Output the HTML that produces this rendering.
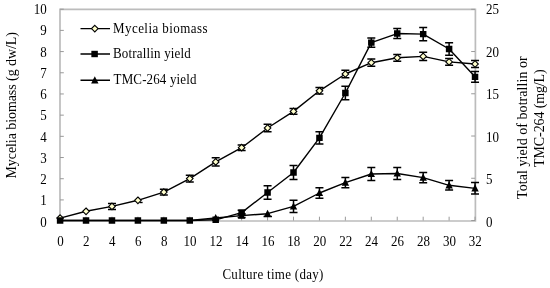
<!DOCTYPE html>
<html><head><meta charset="utf-8"><style>
html,body{margin:0;padding:0;background:#fff;}
body{width:550px;height:288px;overflow:hidden;font-family:"Liberation Serif",serif;}
svg{display:block;}
</style></head><body>
<svg width="550" height="288" viewBox="0 0 550 288">
<rect width="550" height="288" fill="#fff"/>
<path d="M60,9.3 H475.4 V221 H60 Z" fill="none" stroke="#bcbcbc" stroke-width="1.7"/>
<path d="M60,221.10h3.8 M60,199.91h3.8 M60,178.72h3.8 M60,157.53h3.8 M60,136.34h3.8 M60,115.15h3.8 M60,93.96h3.8 M60,72.77h3.8 M60,51.58h3.8 M60,30.39h3.8 M60,9.20h3.8 M475,220.50h-3.8 M475,178.26h-3.8 M475,136.02h-3.8 M475,93.78h-3.8 M475,51.54h-3.8 M475,9.30h-3.8 M60.10,220.5v-3.8 M86.03,220.5v-3.8 M111.97,220.5v-3.8 M137.90,220.5v-3.8 M163.84,220.5v-3.8 M189.77,220.5v-3.8 M215.70,220.5v-3.8 M241.64,220.5v-3.8 M267.57,220.5v-3.8 M293.51,220.5v-3.8 M319.44,220.5v-3.8 M345.37,220.5v-3.8 M371.31,220.5v-3.8 M397.24,220.5v-3.8 M423.18,220.5v-3.8 M449.11,220.5v-3.8 M475.04,220.5v-3.8" fill="none" stroke="#999" stroke-width="1"/>
<path d="M263.57,216.6h8.4M267.57,216.6v-3" stroke="#000" stroke-width="1.5"/>
<path d="M139.6,202.5h3" stroke="#000" stroke-width="1.4"/>
<path d="M111.97,203.40V209.40M107.97,203.40h8M107.97,209.40h8M163.84,189.15V195.05M159.84,189.15h8M159.84,195.05h8M189.77,175.30V181.90M185.77,175.30h8M185.77,181.90h8M215.70,157.80V166.00M211.70,157.80h8M211.70,166.00h8M241.64,145.00V150.40M237.64,145.00h8M237.64,150.40h8M267.57,124.35V131.65M263.57,124.35h8M263.57,131.65h8M293.51,108.60V114.20M289.51,108.60h8M289.51,114.20h8M319.44,87.60V94.00M315.44,87.60h8M315.44,94.00h8M345.37,70.15V77.85M341.37,70.15h8M341.37,77.85h8M371.31,59.10V66.30M367.31,59.10h8M367.31,66.30h8M397.24,54.40V61.20M393.24,54.40h8M393.24,61.20h8M423.18,52.30V60.50M419.18,52.30h8M419.18,60.50h8M449.11,58.50V65.30M445.11,58.50h8M445.11,65.30h8M475.04,60.50V67.50M471.04,60.50h8M471.04,67.50h8" fill="none" stroke="#000" stroke-width="1.5"/>
<polyline points="60.10,218.10 86.03,211.30 111.97,206.40 137.90,200.30 163.84,192.10 189.77,178.60 215.70,161.90 241.64,147.70 267.57,128.00 293.51,111.40 319.44,90.80 345.37,74.00 371.31,62.70 397.24,57.80 423.18,56.40 449.11,61.90 475.04,64.00" fill="none" stroke="#000" stroke-width="1.4" stroke-linejoin="round"/>
<path d="M60.10,214.80L63.40,218.10L60.10,221.40L56.80,218.10ZM86.03,208.00L89.33,211.30L86.03,214.60L82.73,211.30ZM111.97,203.10L115.27,206.40L111.97,209.70L108.67,206.40ZM137.90,197.00L141.20,200.30L137.90,203.60L134.60,200.30ZM163.84,188.80L167.14,192.10L163.84,195.40L160.54,192.10ZM189.77,175.30L193.07,178.60L189.77,181.90L186.47,178.60ZM215.70,158.60L219.00,161.90L215.70,165.20L212.40,161.90ZM241.64,144.40L244.94,147.70L241.64,151.00L238.34,147.70ZM267.57,124.70L270.87,128.00L267.57,131.30L264.27,128.00ZM293.51,108.10L296.81,111.40L293.51,114.70L290.21,111.40ZM319.44,87.50L322.74,90.80L319.44,94.10L316.14,90.80ZM345.37,70.70L348.67,74.00L345.37,77.30L342.07,74.00ZM371.31,59.40L374.61,62.70L371.31,66.00L368.01,62.70ZM397.24,54.50L400.54,57.80L397.24,61.10L393.94,57.80ZM423.18,53.10L426.48,56.40L423.18,59.70L419.88,56.40ZM449.11,58.60L452.41,61.90L449.11,65.20L445.81,61.90ZM475.04,60.70L478.34,64.00L475.04,67.30L471.74,64.00Z" fill="#ffffcc" stroke="#000" stroke-width="1.1"/>
<path d="M241.64,213.80V217.40M237.64,213.80h8M237.64,217.40h8M293.51,200.30V212.50M289.51,200.30h8M289.51,212.50h8M319.44,187.85V198.15M315.44,187.85h8M315.44,198.15h8M345.37,177.50V187.70M341.37,177.50h8M341.37,187.70h8M371.31,167.50V180.50M367.31,167.50h8M367.31,180.50h8M397.24,167.50V179.50M393.24,167.50h8M393.24,179.50h8M423.18,172.50V182.70M419.18,172.50h8M419.18,182.70h8M449.11,180.60V190.00M445.11,180.60h8M445.11,190.00h8M475.04,182.60V194.10M471.04,182.60h8M471.04,194.10h8" fill="none" stroke="#000" stroke-width="1.5"/>
<polyline points="60.10,220.50 86.03,220.50 111.97,220.50 137.90,220.50 163.84,220.50 189.77,220.50 215.70,218.00 241.64,215.60 267.57,213.70 293.51,206.40 319.44,193.00 345.37,182.60 371.31,174.00 397.24,173.50 423.18,177.60 449.11,185.30 475.04,188.35" fill="none" stroke="#000" stroke-width="1.4" stroke-linejoin="round"/>
<path d="M215.70,214.00L219.40,221.10L212.00,221.10ZM241.64,211.60L245.34,218.70L237.94,218.70ZM267.57,209.70L271.27,216.80L263.87,216.80ZM293.51,202.40L297.21,209.50L289.81,209.50ZM319.44,189.00L323.14,196.10L315.74,196.10ZM345.37,178.60L349.07,185.70L341.67,185.70ZM371.31,170.00L375.01,177.10L367.61,177.10ZM397.24,169.50L400.94,176.60L393.54,176.60ZM423.18,173.60L426.88,180.70L419.48,180.70ZM449.11,181.30L452.81,188.40L445.41,188.40ZM475.04,184.35L478.74,191.45L471.34,191.45Z" fill="#000"/>
<path d="M241.64,210.20V215.00M237.64,210.20h8M237.64,215.00h8M267.57,185.75V199.25M263.57,185.75h8M263.57,199.25h8M293.51,165.40V179.60M289.51,165.40h8M289.51,179.60h8M319.44,131.80V143.90M315.44,131.80h8M315.44,143.90h8M345.37,86.20V99.80M341.37,86.20h8M341.37,99.80h8M371.31,37.90V47.30M367.31,37.90h8M367.31,47.30h8M397.24,28.50V38.60M393.24,28.50h8M393.24,38.60h8M423.18,27.40V40.80M419.18,27.40h8M419.18,40.80h8M449.11,42.70V55.30M445.11,42.70h8M445.11,55.30h8M475.04,71.50V82.20M471.04,71.50h8M471.04,82.20h8" fill="none" stroke="#000" stroke-width="1.5"/>
<polyline points="60.10,220.50 86.03,220.50 111.97,220.50 137.90,220.50 163.84,220.50 189.77,220.50 215.70,219.80 241.64,212.60 267.57,192.50 293.51,172.50 319.44,137.85 345.37,93.00 371.31,42.60 397.24,33.55 423.18,34.10 449.11,49.00 475.04,76.85" fill="none" stroke="#000" stroke-width="1.4" stroke-linejoin="round"/>
<path d="M56.85,217.30h6.5v6.4h-6.5ZM82.78,217.30h6.5v6.4h-6.5ZM108.72,217.30h6.5v6.4h-6.5ZM134.65,217.30h6.5v6.4h-6.5ZM160.59,217.30h6.5v6.4h-6.5ZM186.52,217.30h6.5v6.4h-6.5ZM212.45,216.60h6.5v6.4h-6.5ZM238.39,209.40h6.5v6.4h-6.5ZM264.32,189.30h6.5v6.4h-6.5ZM290.26,169.30h6.5v6.4h-6.5ZM316.19,134.65h6.5v6.4h-6.5ZM342.12,89.80h6.5v6.4h-6.5ZM368.06,39.40h6.5v6.4h-6.5ZM393.99,30.35h6.5v6.4h-6.5ZM419.93,30.90h6.5v6.4h-6.5ZM445.86,45.80h6.5v6.4h-6.5ZM471.79,73.65h6.5v6.4h-6.5Z" fill="#000"/>
<path d="M80.5,28.6H110M80.5,54H110M80.5,80.3H110" stroke="#000" stroke-width="1.4"/>
<path d="M94.80,25.30L98.10,28.60L94.80,31.90L91.50,28.60Z" fill="#ffffcc" stroke="#000" stroke-width="1.1"/>
<path d="M91.35,50.80h6.5v6.4h-6.5Z" fill="#000"/>
<path d="M94.80,76.30L98.50,83.40L91.10,83.40Z" fill="#000"/>
<g opacity="0.999">
<text transform="translate(113.00,32.60) scale(1,1.12)" text-anchor="start" font-family="Liberation Serif" font-size="13" fill="#000" textLength="94.6" lengthAdjust="spacing">Mycelia biomass</text>
<text transform="translate(113.00,57.80) scale(1,1.12)" text-anchor="start" font-family="Liberation Serif" font-size="13" fill="#000" textLength="77.8" lengthAdjust="spacing">Botrallin yield</text>
<text transform="translate(113.60,84.40) scale(1,1.12)" text-anchor="start" font-family="Liberation Serif" font-size="13" fill="#000" textLength="82.8" lengthAdjust="spacing">TMC-264 yield</text>
<text transform="translate(46.80,226.70) scale(1,1.12)" text-anchor="end" font-family="Liberation Serif" font-size="13" fill="#000">0</text>
<text transform="translate(46.80,205.44) scale(1,1.12)" text-anchor="end" font-family="Liberation Serif" font-size="13" fill="#000">1</text>
<text transform="translate(46.80,184.18) scale(1,1.12)" text-anchor="end" font-family="Liberation Serif" font-size="13" fill="#000">2</text>
<text transform="translate(46.80,162.92) scale(1,1.12)" text-anchor="end" font-family="Liberation Serif" font-size="13" fill="#000">3</text>
<text transform="translate(46.80,141.66) scale(1,1.12)" text-anchor="end" font-family="Liberation Serif" font-size="13" fill="#000">4</text>
<text transform="translate(46.80,120.40) scale(1,1.12)" text-anchor="end" font-family="Liberation Serif" font-size="13" fill="#000">5</text>
<text transform="translate(46.80,99.14) scale(1,1.12)" text-anchor="end" font-family="Liberation Serif" font-size="13" fill="#000">6</text>
<text transform="translate(46.80,77.88) scale(1,1.12)" text-anchor="end" font-family="Liberation Serif" font-size="13" fill="#000">7</text>
<text transform="translate(46.80,56.62) scale(1,1.12)" text-anchor="end" font-family="Liberation Serif" font-size="13" fill="#000">8</text>
<text transform="translate(46.80,35.36) scale(1,1.12)" text-anchor="end" font-family="Liberation Serif" font-size="13" fill="#000">9</text>
<text transform="translate(46.80,14.10) scale(1,1.12)" text-anchor="end" font-family="Liberation Serif" font-size="13" fill="#000">10</text>
<text transform="translate(486.00,226.50) scale(1,1.12)" text-anchor="start" font-family="Liberation Serif" font-size="13" fill="#000">0</text>
<text transform="translate(486.00,184.00) scale(1,1.12)" text-anchor="start" font-family="Liberation Serif" font-size="13" fill="#000">5</text>
<text transform="translate(486.00,141.50) scale(1,1.12)" text-anchor="start" font-family="Liberation Serif" font-size="13" fill="#000">10</text>
<text transform="translate(486.00,99.00) scale(1,1.12)" text-anchor="start" font-family="Liberation Serif" font-size="13" fill="#000">15</text>
<text transform="translate(486.00,56.50) scale(1,1.12)" text-anchor="start" font-family="Liberation Serif" font-size="13" fill="#000">20</text>
<text transform="translate(486.00,14.00) scale(1,1.12)" text-anchor="start" font-family="Liberation Serif" font-size="13" fill="#000">25</text>
<text transform="translate(60.40,246.00) scale(1,1.12)" text-anchor="middle" font-family="Liberation Serif" font-size="13" fill="#000">0</text>
<text transform="translate(86.33,246.00) scale(1,1.12)" text-anchor="middle" font-family="Liberation Serif" font-size="13" fill="#000">2</text>
<text transform="translate(112.27,246.00) scale(1,1.12)" text-anchor="middle" font-family="Liberation Serif" font-size="13" fill="#000">4</text>
<text transform="translate(138.20,246.00) scale(1,1.12)" text-anchor="middle" font-family="Liberation Serif" font-size="13" fill="#000">6</text>
<text transform="translate(164.14,246.00) scale(1,1.12)" text-anchor="middle" font-family="Liberation Serif" font-size="13" fill="#000">8</text>
<text transform="translate(190.07,246.00) scale(1,1.12)" text-anchor="middle" font-family="Liberation Serif" font-size="13" fill="#000">10</text>
<text transform="translate(216.00,246.00) scale(1,1.12)" text-anchor="middle" font-family="Liberation Serif" font-size="13" fill="#000">12</text>
<text transform="translate(241.94,246.00) scale(1,1.12)" text-anchor="middle" font-family="Liberation Serif" font-size="13" fill="#000">14</text>
<text transform="translate(267.87,246.00) scale(1,1.12)" text-anchor="middle" font-family="Liberation Serif" font-size="13" fill="#000">16</text>
<text transform="translate(293.81,246.00) scale(1,1.12)" text-anchor="middle" font-family="Liberation Serif" font-size="13" fill="#000">18</text>
<text transform="translate(319.74,246.00) scale(1,1.12)" text-anchor="middle" font-family="Liberation Serif" font-size="13" fill="#000">20</text>
<text transform="translate(345.67,246.00) scale(1,1.12)" text-anchor="middle" font-family="Liberation Serif" font-size="13" fill="#000">22</text>
<text transform="translate(371.61,246.00) scale(1,1.12)" text-anchor="middle" font-family="Liberation Serif" font-size="13" fill="#000">24</text>
<text transform="translate(397.54,246.00) scale(1,1.12)" text-anchor="middle" font-family="Liberation Serif" font-size="13" fill="#000">26</text>
<text transform="translate(423.48,246.00) scale(1,1.12)" text-anchor="middle" font-family="Liberation Serif" font-size="13" fill="#000">28</text>
<text transform="translate(449.41,246.00) scale(1,1.12)" text-anchor="middle" font-family="Liberation Serif" font-size="13" fill="#000">30</text>
<text transform="translate(475.34,246.00) scale(1,1.12)" text-anchor="middle" font-family="Liberation Serif" font-size="13" fill="#000">32</text>
<text transform="translate(272.90,278.80) scale(1,1.12)" text-anchor="middle" font-family="Liberation Serif" font-size="13" fill="#000" textLength="101" lengthAdjust="spacing">Culture time (day)</text>
<text transform="translate(15.60,105.30) rotate(-90)" text-anchor="middle" font-family="Liberation Serif" font-size="14" fill="#000" textLength="146.5" lengthAdjust="spacing">Mycelia biomass (g dw/L)</text>
<text transform="translate(526.50,127.60) rotate(-90)" text-anchor="middle" font-family="Liberation Serif" font-size="14" fill="#000" textLength="142.6" lengthAdjust="spacing">Total yield of botrallin or</text>
<text transform="translate(544.20,118.10) rotate(-90)" text-anchor="middle" font-family="Liberation Serif" font-size="14" fill="#000" textLength="97.6" lengthAdjust="spacing">TMC-264 (mg/L)</text>
</g>
</svg>
</body></html>
